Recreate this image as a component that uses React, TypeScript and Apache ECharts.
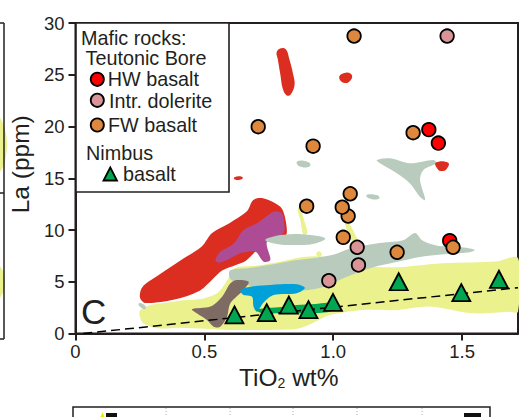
import React, { useEffect, useRef } from 'react';
import * as echarts from 'echarts';

// ---- data (TiO2 wt%, La ppm) ----
const hwBasalt = [[1.371, 19.7], [1.408, 18.4], [1.452, 8.97]];
const intrDolerite = [[1.442, 28.74], [1.093, 8.33], [1.098, 6.62], [0.983, 5.1]];
const fwBasalt = [
  [1.081, 28.74], [0.709, 19.98], [1.31, 19.4], [0.922, 18.1], [1.066, 13.5], [0.897, 12.3],
  [1.058, 11.35], [1.035, 12.2], [1.039, 9.29], [1.248, 7.85], [1.465, 8.33],
];
const nimbusBasalt = [
  [0.617, 1.79], [0.742, 2.01], [0.828, 2.75], [0.904, 2.3], [0.999, 3.0], [1.254, 5.0],
  [1.497, 3.94], [1.643, 5.24],
];
const trendLine = [[0.03, 0], [1.717, 4.42]];
const xTicks = [0, 0.5, 1.0, 1.5];

// ---- compositional fields (polygon outlines in data units) ----
const yellowField = [
  [0.25, 2.2], [0.29, 2.75], [0.36, 3.0], [0.41, 3.2], [0.48, 3.3], [0.55, 3.9], [0.58, 4.8], [0.6, 5.6],
  [0.62, 6.35], [0.7, 6.55], [0.78, 6.85], [0.86, 7.3], [0.94, 7.45], [1.0, 7.0], [1.1, 6.5], [1.25, 6.4],
  [1.35, 6.62], [1.45, 6.8], [1.63, 6.95], [1.717, 7.27], [1.717, 2.1], [1.685, 2.1], [1.54, 1.95],
  [1.375, 2.6], [1.245, 2.27], [1.116, 2.27], [0.99, 1.8], [0.92, 1.0], [0.86, 0.45], [0.75, 0.35],
  [0.6, 0.35], [0.41, 0.55], [0.32, 0.5], [0.265, 0.95], [0.25, 1.6],
];
const yellowStreak1 = [[0.862, 12.0], [0.872, 12.3], [0.884, 11.2], [0.9, 9.7], [0.884, 9.6], [0.872, 11.0]];
const yellowStreak2 = [[1.045, 10.6], [1.06, 10.7], [1.1, 8.6], [1.085, 8.4]];
const yellowDot = [[0.934, 7.7], [0.945, 7.95], [0.956, 7.6], [0.945, 7.4]];
const greyBand = [
  [0.6, 5.3], [0.6, 6.1], [0.665, 6.3], [0.78, 6.75], [0.86, 7.1], [0.94, 7.35], [1.0, 7.6], [1.064, 8.2],
  [1.168, 8.7], [1.271, 9.0], [1.318, 9.7], [1.345, 9.0], [1.4, 8.5], [1.491, 8.35], [1.55, 8.07],
  [1.53, 7.85], [1.452, 7.7], [1.336, 7.4], [1.245, 6.9], [1.155, 6.4], [1.051, 5.45], [0.961, 4.5],
  [0.884, 4.15], [0.806, 4.15], [0.7, 4.5], [0.64, 4.8],
];
const greyLens = [[0.736, 9.03], [0.78, 9.45], [0.833, 9.6], [0.9, 9.55], [0.969, 9.2], [0.93, 8.7], [0.859, 8.55], [0.78, 8.65]];
const greyWing = [
  [1.169, 16.76], [1.221, 16.93], [1.298, 16.44], [1.389, 16.76], [1.401, 16.44], [1.35, 15.8],
  [1.337, 14.83], [1.357, 12.9], [1.337, 13.2], [1.298, 14.5], [1.247, 15.48], [1.182, 16.44],
];
const greySpot1 = [[0.858, 16.5], [0.885, 16.7], [0.912, 16.3], [0.885, 16.05]];
const greySpot2 = [[1.128, 13.3], [1.15, 13.45], [1.18, 13.15], [1.155, 12.95]];
const greySpot3 = [[0.245, 2.9], [0.265, 2.8], [0.272, 2.4], [0.255, 2.5]];
const redField = [
  [0.25, 3.5], [0.26, 4.5], [0.32, 5.6], [0.41, 7.1], [0.49, 8.4], [0.53, 9.7], [0.6, 10.7], [0.665, 11.8],
  [0.69, 12.9], [0.73, 13.05], [0.795, 12.25], [0.815, 11.0], [0.815, 9.4], [0.74, 8.9], [0.66, 7.0],
  [0.62, 6.6], [0.57, 6.1], [0.53, 5.2], [0.48, 4.1], [0.38, 3.25], [0.27, 2.95],
];
const redStreak = [
  [0.78, 27.1], [0.79, 27.5], [0.815, 27.5], [0.83, 26.5], [0.845, 25], [0.85, 24], [0.835, 23.1],
  [0.82, 23.0], [0.805, 23.6], [0.795, 25], [0.785, 26.5],
];
const redSpot1 = [[1.023, 24.7], [1.04, 25.15], [1.068, 25.1], [1.071, 24.6], [1.045, 24.2]];
const redSpot2 = [[0.614, 15.0], [0.632, 15.2], [0.65, 15.05], [0.632, 14.82]];
const redSpot3 = [[1.398, 16.5], [1.446, 16.5], [1.44, 15.9], [1.42, 15.7], [1.405, 15.9]];
const purpleField = [
  [0.543, 7.1], [0.562, 7.9], [0.614, 8.7], [0.652, 10.0], [0.704, 10.65], [0.769, 11.77], [0.801, 11.6],
  [0.81, 10.65], [0.807, 9.68], [0.743, 8.87], [0.756, 7.1], [0.73, 6.94], [0.698, 7.9], [0.64, 7.75],
  [0.588, 7.1], [0.556, 6.84],
];
const brownField = [
  [0.452, 2.35], [0.523, 2.6], [0.569, 3.56], [0.601, 4.85], [0.627, 5.17], [0.672, 5.0], [0.652, 4.2],
  [0.601, 2.92], [0.588, 1.62], [0.562, 0.66], [0.536, 0.66], [0.51, 1.3], [0.471, 1.95],
];
const blueField = [
  [0.64, 4.2], [0.678, 4.52], [0.756, 4.69], [0.859, 4.75], [0.89, 4.4], [0.859, 3.9], [0.769, 3.72],
  [0.73, 3.0], [0.704, 2.11], [0.691, 2.59], [0.685, 3.56], [0.652, 3.72],
];
const greenField = [
  [0.7, 2.3], [0.8, 2.55], [0.858, 2.75], [0.93, 2.85], [0.987, 2.95], [1.0, 2.5], [0.987, 2.11],
  [0.9, 1.95], [0.793, 1.95], [0.72, 2.0],
];

const INK = '#231f20';
const FONT = 'Liberation Sans';

function field(pts: number[][], color: string, smooth = 0.35) {
  return {
    type: 'custom',
    coordinateSystem: 'cartesian2d',
    silent: true,
    clip: true,
    data: [pts[0]],
    renderItem: (_params: any, api: any) => ({
      type: 'polygon',
      shape: { points: pts.map((p) => api.coord(p)), smooth },
      style: { fill: color },
    }),
  };
}

export default function App() {
  const ref = useRef<HTMLDivElement>(null);
  useEffect(() => {
    if (!ref.current) return;
    const chart = echarts.init(ref.current, null, { renderer: 'svg' });
    const txt = (text: string, x: number, y: number, size = 19.8) => ({
      type: 'text', z: 101, x, y,
      style: { text, fontSize: size, lineHeight: 18, fontFamily: FONT, fill: INK, verticalAlign: 'middle', align: 'left' },
    });
    const circ = (cx: number, cy: number, fill: string) => ({
      type: 'circle', z: 101, shape: { cx, cy, r: 6.6 },
      style: { fill, stroke: '#000', lineWidth: 1.8 },
    });
    const ln = (x1: number, y1: number, x2: number, y2: number, extra: any = {}) => ({
      type: 'line', z: 50, shape: { x1, y1, x2, y2 },
      style: { stroke: INK, lineWidth: 1.5, ...extra },
    });
    const option: any = {
      animation: false,
      grid: { left: 75, top: 23, right: 8, bottom: 83.5, show: true, borderColor: INK, borderWidth: 2, backgroundColor: 'transparent' },
      xAxis: {
        type: 'value', min: 0, max: 1.717,
        axisLine: { show: true, onZero: false, lineStyle: { color: INK, width: 2 } },
        axisTick: { show: true, length: 7, customValues: xTicks, lineStyle: { color: INK, width: 2 } },
        axisLabel: {
          customValues: xTicks, fontSize: 18.5, color: INK, fontFamily: FONT, margin: 8,
          formatter: (v: number) => (v === 0 ? '0' : v.toFixed(1)),
        },
        splitLine: { show: false },
        name: '{a|TiO}{s|2}{a| wt%}',
        nameLocation: 'middle', nameGap: 20,
        nameTextStyle: {
          padding: [0, 16, 0, 0],
          rich: {
            a: { fontSize: 24.5, fontFamily: FONT, color: INK, lineHeight: 34, verticalAlign: 'bottom' },
            s: { fontSize: 14, fontFamily: FONT, color: INK, lineHeight: 14, verticalAlign: 'bottom' },
          },
        },
      },
      yAxis: {
        type: 'value', min: 0, max: 30, interval: 5,
        axisLine: { show: true, onZero: false, lineStyle: { color: INK, width: 2 } },
        axisTick: { show: true, length: 7, lineStyle: { color: INK, width: 2 } },
        axisLabel: { fontSize: 18.5, color: INK, fontFamily: FONT, margin: 11 },
        splitLine: { show: false },
        name: 'La (ppm)', nameLocation: 'middle', nameGap: 34,
        nameTextStyle: { fontSize: 24.5, fontFamily: FONT, color: INK, padding: [0, 0, 0, 28] },
      },
      series: [
        field(yellowField, '#eaf18d', 0.3),
        field(yellowStreak1, '#eaf18d', 0.3),
        field(yellowStreak2, '#eaf18d', 0.3),
        field(yellowDot, '#eaf18d', 0.5),
        field(greyBand, '#b8cbbd', 0.3),
        field(greyWing, '#b8cbbd', 0.3),
        field(greySpot1, '#b8cbbd', 0.6),
        field(greySpot2, '#b8cbbd', 0.6),
        field(greySpot3, '#b8cbbd', 0.6),
        field(redField, '#dc2d21', 0.3),
        field(redStreak, '#dc2d21', 0.4),
        field(redSpot1, '#dc2d21', 0.5),
        field(redSpot2, '#dc2d21', 0.5),
        field(redSpot3, '#dc2d21', 0.5),
        field(purpleField, '#ad4c94', 0.3),
        field(greyLens, '#b8cbbd', 0.4),
        field(brownField, '#7e6b63', 0.3),
        field(blueField, '#00a0d8', 0.3),
        field(greenField, '#00a651', 0.3),
        {
          type: 'line', data: trendLine, symbol: 'none', silent: true, z: 3,
          lineStyle: { color: '#000', width: 1.5, type: [9, 5] },
        },
        {
          name: 'HW basalt', type: 'scatter', data: hwBasalt, symbol: 'circle', symbolSize: 13.5, z: 4,
          itemStyle: { color: '#ff0000', borderColor: '#000', borderWidth: 1.8, opacity: 1 },
        },
        {
          name: 'Intr. dolerite', type: 'scatter', data: intrDolerite, symbol: 'circle', symbolSize: 13.5, z: 4,
          itemStyle: { color: '#d99497', borderColor: '#000', borderWidth: 1.8, opacity: 1 },
        },
        {
          name: 'FW basalt', type: 'scatter', data: fwBasalt, symbol: 'circle', symbolSize: 13.5, z: 4,
          itemStyle: { color: '#dd883c', borderColor: '#000', borderWidth: 1.8, opacity: 1 },
        },
        {
          name: 'Nimbus basalt', type: 'scatter', data: nimbusBasalt, symbol: 'triangle', symbolSize: [18, 17], z: 5,
          itemStyle: { color: '#00a650', borderColor: '#000', borderWidth: 1.8, opacity: 1 },
        },
      ],
      graphic: [
        // neighbouring panels (cropped)
        { type: 'ellipse', z: 40, shape: { cx: -8, cy: 145, rx: 15, ry: 32 }, style: { fill: '#eaf18d' } },
        { type: 'ellipse', z: 40, shape: { cx: -8, cy: 282, rx: 13, ry: 20 }, style: { fill: '#eaf18d' } },
        ln(4, 23, 4, 339), ln(0, 23, 4, 23), ln(0, 193, 4, 193), ln(0, 339, 4, 339),
        { type: 'polyline', z: 50, shape: { points: [[73, 418], [73, 407], [490, 407], [490, 418]] }, style: { stroke: INK, lineWidth: 1.5, fill: null } },
        ln(166, 408, 166, 417, { stroke: '#aaa', lineWidth: 1, lineDash: [1, 2] }),
        ln(230, 408, 230, 417, { stroke: '#aaa', lineWidth: 1, lineDash: [1, 2] }),
        ln(293, 408, 293, 417, { stroke: '#aaa', lineWidth: 1, lineDash: [1, 2] }),
        ln(357, 408, 357, 417, { stroke: '#aaa', lineWidth: 1, lineDash: [1, 2] }),
        ln(422, 408, 422, 417, { stroke: '#aaa', lineWidth: 1, lineDash: [1, 2] }),
        { type: 'rect', z: 50, shape: { x: 106, y: 413, width: 11, height: 5 }, style: { fill: '#111' } },
        { type: 'rect', z: 50, shape: { x: 464, y: 413, width: 17, height: 5 }, style: { fill: '#111' } },
        { type: 'polygon', z: 50, shape: { points: [[102.5, 412], [100.5, 417], [104.5, 417]] }, style: { fill: '#f2e600' } },
        // panel label
        { type: 'text', z: 60, x: 81, y: 311, style: { text: 'C', fontSize: 35, fontFamily: FONT, fill: INK, verticalAlign: 'middle' } },
        // legend box
        { type: 'rect', z: 100, shape: { x: 76, y: 23, width: 153, height: 169 }, style: { fill: '#fff', stroke: INK, lineWidth: 1.6 } },
        txt('Mafic rocks:', 81, 37.5),
        txt('Teutonic Bore', 85.5, 58),
        circ(97.3, 79.3, '#ff0000'), txt('HW basalt', 107.7, 78.6),
        circ(97.3, 100.3, '#d99497'), txt('Intr. dolerite', 109, 101.3),
        circ(97.3, 125, '#dd883c'), txt('FW basalt', 108, 125),
        txt('Nimbus', 86, 153),
        { type: 'polygon', z: 101, shape: { points: [[110.3, 167.5], [103.5, 180.5], [117, 180.5]] }, style: { fill: '#00a650', stroke: '#000', lineWidth: 1.8 } },
        txt('basalt', 123, 173.8),
      ],
    };
    chart.setOption(option);
    return () => chart.dispose();
  }, []);
  return <div ref={ref} style={{ width: 526, height: 417, position: 'absolute', left: 0, top: 0 }} />;
}
